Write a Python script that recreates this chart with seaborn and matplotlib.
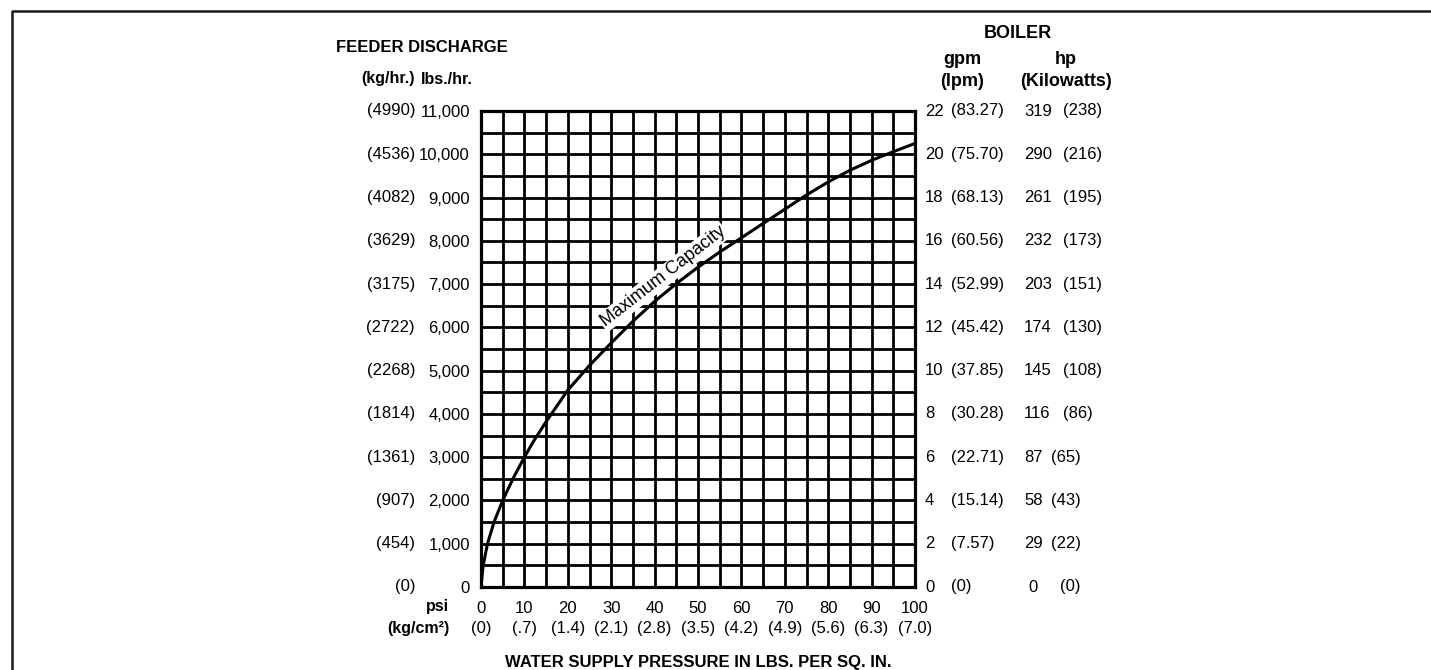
import pandas as pd
import seaborn as sns
import matplotlib.pyplot as plt
from matplotlib.lines import Line2D

# Maximum capacity curve (psi vs lbs./hr.)
psi = [0, 0.5, 1.5, 3, 5, 7.5, 10, 12, 15, 20, 25, 30, 35, 40, 45, 50,
       55, 60, 65, 70, 75, 80, 85, 90, 95, 100]
lbs_hr = [0, 500, 1000, 1500, 2000, 2530, 3000, 3350, 3820, 4550, 5120, 5640,
          6140, 6600, 7010, 7390, 7740, 8070, 8400, 8730, 9060, 9360, 9630,
          9860, 10060, 10250]

# axis labels
psi_ticks = list(range(0, 101, 10))
kg_cm2 = ['(0)', '(.7)', '(1.4)', '(2.1)', '(2.8)', '(3.5)', '(4.2)', '(4.9)',
          '(5.6)', '(6.3)', '(7.0)']
lbs_ticks = list(range(0, 11001, 1000))
kg_hr = ['(0)', '(454)', '(907)', '(1361)', '(1814)', '(2268)', '(2722)',
         '(3175)', '(3629)', '(4082)', '(4536)', '(4990)']
gpm = [0, 2, 4, 6, 8, 10, 12, 14, 16, 18, 20, 22]
lpm = ['(0)', '(7.57)', '(15.14)', '(22.71)', '(30.28)', '(37.85)', '(45.42)',
       '(52.99)', '(60.56)', '(68.13)', '(75.70)', '(83.27)']
hp = [0, 29, 58, 87, 116, 145, 174, 203, 232, 261, 290, 319]
kw = [0, 22, 43, 65, 86, 108, 130, 151, 173, 195, 216, 238]

W, H = 1431, 670
FS = 12


def px(x, y):
    # pixel position -> figure fraction
    return x / W, 1 - y / H


def ax_x(x):
    # pixel x -> axes fraction
    return (x - 481) / 434


def ax_y(y):
    return (587 - y) / 476


sns.set_theme(style='white')
plt.rcParams['font.family'] = ['Liberation Sans', 'DejaVu Sans']
plt.rcParams['text.color'] = 'black'
plt.rcParams['xtick.color'] = 'black'
plt.rcParams['ytick.color'] = 'black'

fig = plt.figure(figsize=(W / 100, H / 100), dpi=100)
ax = fig.add_axes([481 / W, 1 - 587 / H, 434 / W, 476 / H])

df = pd.DataFrame({'psi': psi, 'lbs': lbs_hr})
sns.lineplot(data=df, x='psi', y='lbs', color='black', linewidth=2.2, ax=ax, zorder=3)

ax.set_xlim(0, 100)
ax.set_ylim(0, 11000)
ax.set_xticks(psi_ticks)
ax.set_xticks(range(0, 101, 5), minor=True)
ax.set_yticks(lbs_ticks)
ax.set_yticklabels([f'{v:,}' for v in lbs_ticks])
ax.set_yticks(range(0, 11001, 500), minor=True)
ax.grid(which='both', color='black', linewidth=2.0)
ax.set_axisbelow(True)
ax.tick_params(which='both', length=0, labelsize=FS, colors='black')
ax.tick_params(axis='x', pad=10)
ax.tick_params(axis='y', pad=8)
for s in ax.spines.values():
    s.set_color('black')
    s.set_linewidth(2.3)
ax.set_xlabel('')
ax.set_ylabel('')

ax.text(42.0, 7170, 'Maximum Capacity', rotation=37.8, rotation_mode='anchor',
        ha='center', va='center', fontsize=13, zorder=4,
        bbox=dict(facecolor='white', edgecolor='none', pad=1.0))

# left side (kg/hr.)
ytr = ax.get_yaxis_transform()
for v, t in zip(lbs_ticks, kg_hr):
    ax.text(ax_x(415), v, t, transform=ytr, ha='right', va='center', fontsize=FS)

# right side boiler columns
for v, g, l, h, k in zip(lbs_ticks, gpm, lpm, hp, kw):
    ax.text(ax_x(925), v, str(g), transform=ytr, ha='left', va='center', fontsize=FS)
    ax.text(ax_x(951), v, l, transform=ytr, ha='left', va='center', fontsize=FS)
    if h == 0:
        hx, kx = 1028, 1060
    elif h >= 100:
        hx, kx = 1024, 1063
    else:
        hx, kx = 1024, 1051
    ax.text(ax_x(hx), v, str(h), transform=ytr, ha='left', va='center', fontsize=FS)
    ax.text(ax_x(kx), v, f'({k})', transform=ytr, ha='left', va='center', fontsize=FS)

# bottom kg/cm2 row
xtr = ax.get_xaxis_transform()
for v, t in zip(psi_ticks, kg_cm2):
    ax.text(v, ax_y(629), t, transform=xtr, ha='center', va='center', fontsize=FS)
ax.text(ax_x(449), ax_y(606), 'psi', transform=ax.transAxes,
        ha='right', va='center', fontsize=11.5, fontweight='bold')
ax.text(ax_x(449), ax_y(629), '(kg/cm²)', transform=ax.transAxes,
        ha='right', va='center', fontsize=11.5, fontweight='bold')

# headers
fig.text(*px(698, 662), 'WATER SUPPLY PRESSURE IN LBS. PER SQ. IN.', ha='center', va='center',
         fontsize=12, fontweight='bold')
fig.text(*px(422, 48), 'FEEDER DISCHARGE', ha='center', va='center', fontsize=12, fontweight='bold')
fig.text(*px(415, 79), '(kg/hr.)', ha='right', va='center', fontsize=11.5, fontweight='bold')
fig.text(*px(473, 79), 'lbs./hr.', ha='right', va='center', fontsize=11.5, fontweight='bold')
fig.text(*px(1018, 33), 'BOILER', ha='center', va='center', fontsize=13, fontweight='bold')
fig.text(*px(962, 60), 'gpm', ha='center', va='center', fontsize=13, fontweight='bold')
fig.text(*px(962, 82), '(lpm)', ha='center', va='center', fontsize=13, fontweight='bold')
fig.text(*px(1066, 60), 'hp', ha='center', va='center', fontsize=13, fontweight='bold')
fig.text(*px(1066, 82), '(Kilowatts)', ha='center', va='center', fontsize=13, fontweight='bold')

# page frame (only top and left edges fall inside the picture)
fig.add_artist(Line2D([12 / W, 12 / W, 1.0], [0, 1 - 11 / H, 1 - 11 / H],
                      color='#1a1a1a', linewidth=1.8))

fig.savefig('out.png', dpi=100)
